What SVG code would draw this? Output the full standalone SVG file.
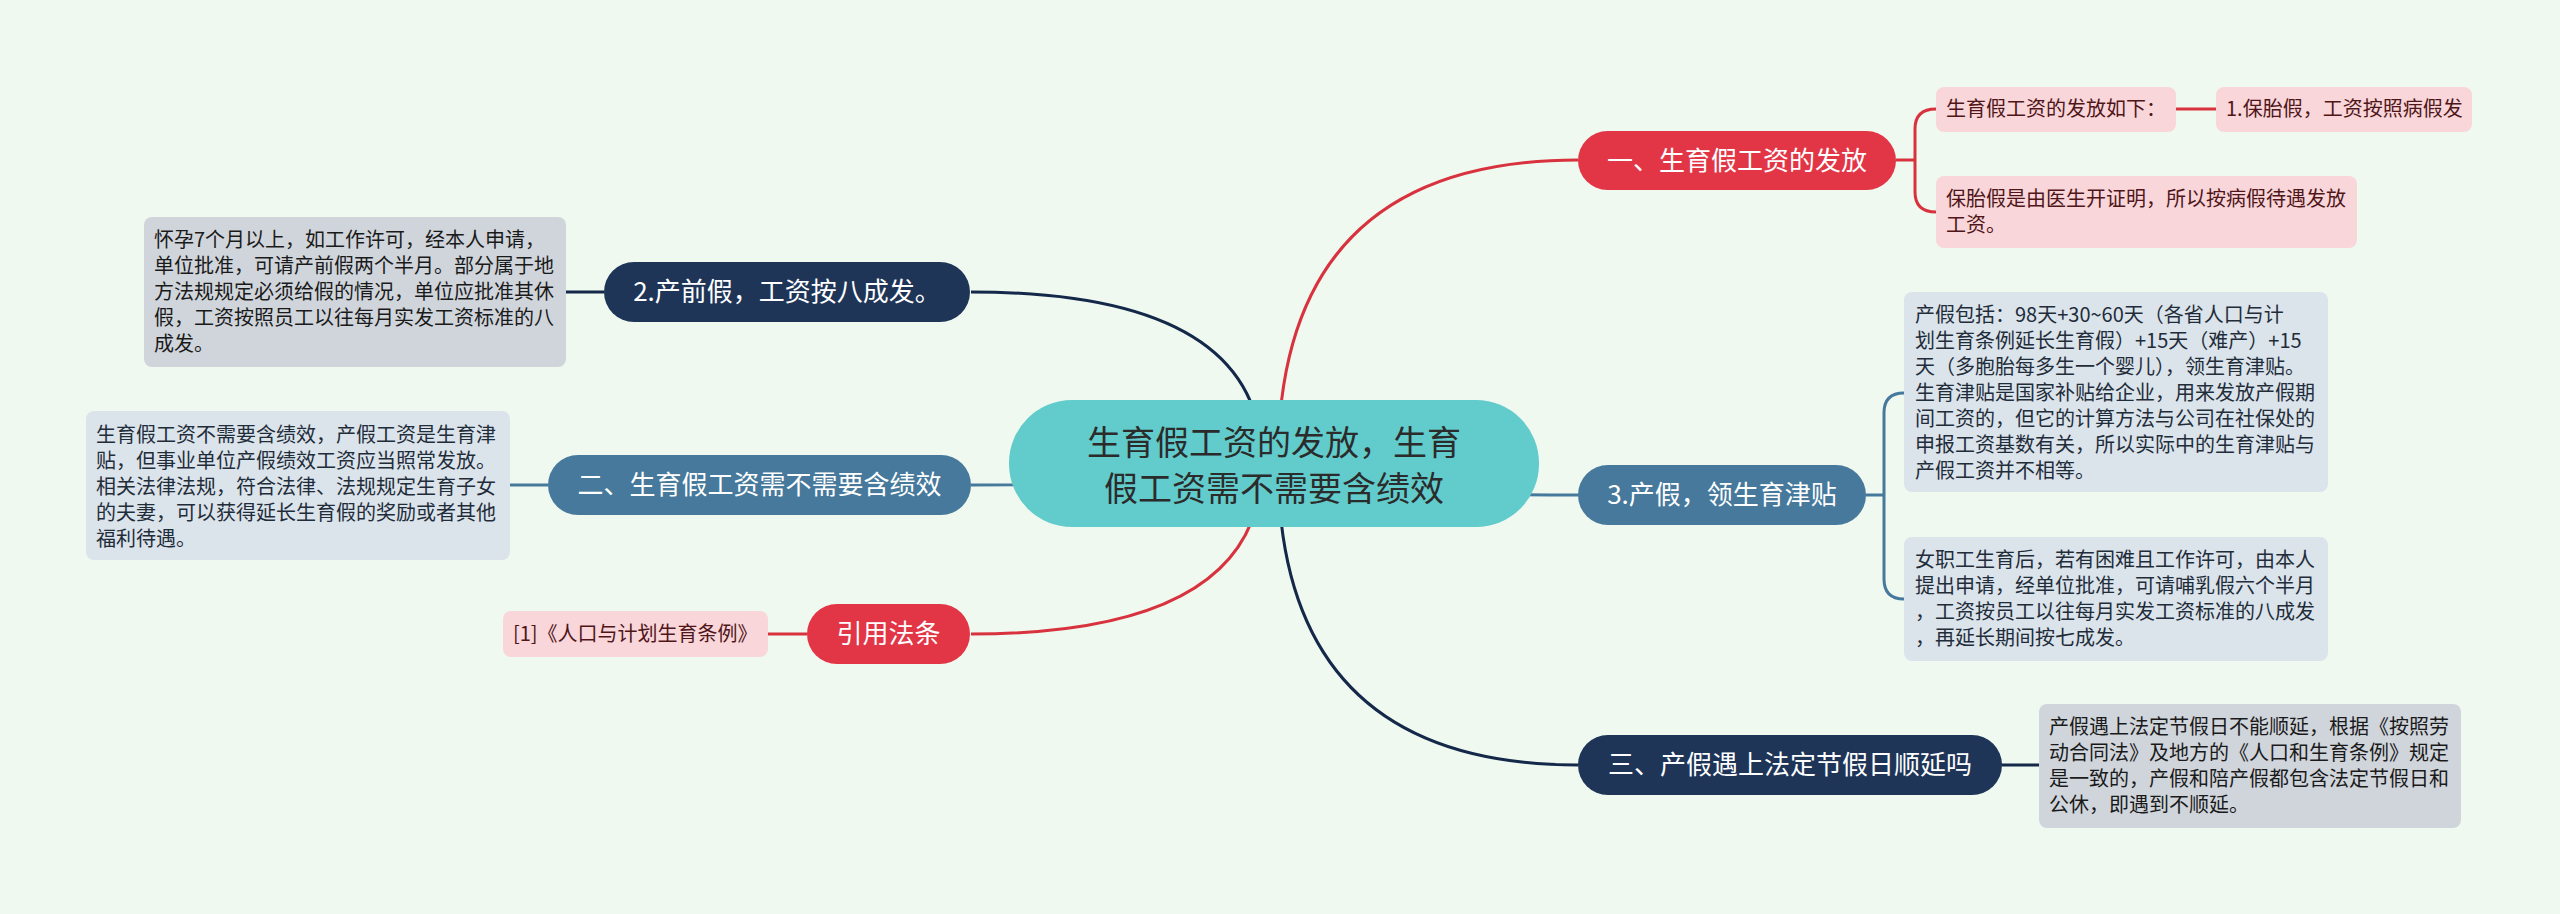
<svg xmlns="http://www.w3.org/2000/svg" width="2560" height="914" viewBox="0 0 2560 914">
<style>
text{font-family:"Noto Sans CJK SC","Noto Sans",sans-serif}
.tc{font-size:34px;fill:#2b2b2b;text-anchor:middle}
.tb{font-size:26px;fill:#ffffff;text-anchor:middle}
.tl{font-size:20px}
.pk{fill:#f9d6da}
.pkt{fill:#4f1518}
.bl{fill:#dbe3eb}
.blt{fill:#1f2d3a}
.gy{fill:#d0d5dc}
.gyt{fill:#1a1a1a}
.red{fill:#e23647}
.navy{fill:#1e3558}
.steel{fill:#46799c}
.c{fill:none;stroke-width:3}
.cr{stroke:#d8323f}
.cn{stroke:#14284a}
.cs{stroke:#46799c}
</style>
<rect width="2560" height="914" fill="#f0f9ef"/>
<g id="connectors">
<path class="c cr" d="M1278 463 Q1278 160 1578 160"/>
<path class="c cs" d="M1278 463 Q1278 495 1578 495"/>
<path class="c cn" d="M1278 463 Q1278 765 1578 765"/>
<path class="c cn" d="M1262 463 Q1262 292 971 292"/>
<path class="c cs" d="M1262 463 Q1262 485 971 485"/>
<path class="c cr" d="M1262 463 Q1262 634 971 634"/>
<path class="c cr" d="M1896 160 H1915"/>
<path class="c cr" d="M1915 160 V129 Q1915 109 1936 109"/>
<path class="c cr" d="M1915 160 V192 Q1915 212 1936 212"/>
<path class="c cr" d="M2176 109 H2216"/>
<path class="c cs" d="M1866 495 H1884"/>
<path class="c cs" d="M1884 495 V413 Q1884 393 1904 393"/>
<path class="c cs" d="M1884 495 V579 Q1884 599 1904 599"/>
<path class="c cn" d="M2002 765 H2039"/>
<path class="c cn" d="M604 292 H566"/>
<path class="c cs" d="M548 485 H510"/>
<path class="c cr" d="M807 634 H768"/>
</g>
<g id="center">
<rect x="1009" y="400" width="530" height="127" rx="63" fill="#62cbcc"/>
<text class="tc" x="1274" y="455">生育假工资的发放，生育</text>
<text class="tc" x="1274" y="501">假工资需不需要含绩效</text>
</g>
<g id="b1">
<rect class="red" x="1578" y="131" width="318" height="59" rx="29.5"/>
<text class="tb" x="1737" y="170">一、生育假工资的发放</text>
</g>
<g id="b1-l1">
<rect class="pk" x="1936" y="87" width="240" height="45" rx="8"/>
<text class="tl pkt" x="1946" y="116">生育假工资的发放如下：</text>
</g>
<g id="b1-l1-1">
<rect class="pk" x="2216" y="87" width="256" height="45" rx="8"/>
<text class="tl pkt" x="2226" y="116">1.保胎假，工资按照病假发</text>
</g>
<g id="b1-l2">
<rect class="pk" x="1936" y="176" width="421" height="72" rx="8"/>
<text class="tl pkt" x="1946" y="206">保胎假是由医生开证明，所以按病假待遇发放</text>
<text class="tl pkt" x="1946" y="232">工资。</text>
</g>
<g id="b2">
<rect class="steel" x="1578" y="465" width="288" height="60" rx="30"/>
<text class="tb" x="1722" y="504">3.产假，领生育津贴</text>
</g>
<g id="b2-l1">
<rect class="bl" x="1904" y="292" width="424" height="200" rx="8"/>
<text class="tl blt" x="1915" y="322">产假包括：98天+30~60天（各省人口与计</text>
<text class="tl blt" x="1915" y="348">划生育条例延长生育假）+15天（难产）+15</text>
<text class="tl blt" x="1915" y="374">天（多胞胎每多生一个婴儿），领生育津贴。</text>
<text class="tl blt" x="1915" y="400">生育津贴是国家补贴给企业，用来发放产假期</text>
<text class="tl blt" x="1915" y="426">间工资的，但它的计算方法与公司在社保处的</text>
<text class="tl blt" x="1915" y="452">申报工资基数有关，所以实际中的生育津贴与</text>
<text class="tl blt" x="1915" y="478">产假工资并不相等。</text>
</g>
<g id="b2-l2">
<rect class="bl" x="1904" y="537" width="424" height="124" rx="8"/>
<text class="tl blt" x="1915" y="567">女职工生育后，若有困难且工作许可，由本人</text>
<text class="tl blt" x="1915" y="593">提出申请，经单位批准，可请哺乳假六个半月</text>
<text class="tl blt" x="1915" y="619">，工资按员工以往每月实发工资标准的八成发</text>
<text class="tl blt" x="1915" y="645">，再延长期间按七成发。</text>
</g>
<g id="b3">
<rect class="navy" x="1578" y="735" width="424" height="60" rx="30"/>
<text class="tb" x="1790" y="774">三、产假遇上法定节假日顺延吗</text>
</g>
<g id="b3-l1">
<rect class="gy" x="2039" y="704" width="422" height="124" rx="8"/>
<text class="tl gyt" x="2049" y="734">产假遇上法定节假日不能顺延，根据《按照劳</text>
<text class="tl gyt" x="2049" y="760">动合同法》及地方的《人口和生育条例》规定</text>
<text class="tl gyt" x="2049" y="786">是一致的，产假和陪产假都包含法定节假日和</text>
<text class="tl gyt" x="2049" y="812">公休，即遇到不顺延。</text>
</g>
<g id="b4">
<rect class="navy" x="604" y="262" width="366" height="60" rx="30"/>
<text class="tb" x="787" y="301">2.产前假，工资按八成发。</text>
</g>
<g id="b4-l1">
<rect class="gy" x="144" y="217" width="422" height="150" rx="8"/>
<text class="tl gyt" x="154" y="247">怀孕7个月以上，如工作许可，经本人申请，</text>
<text class="tl gyt" x="154" y="273">单位批准，可请产前假两个半月。部分属于地</text>
<text class="tl gyt" x="154" y="299">方法规规定必须给假的情况，单位应批准其休</text>
<text class="tl gyt" x="154" y="325">假，工资按照员工以往每月实发工资标准的八</text>
<text class="tl gyt" x="154" y="351">成发。</text>
</g>
<g id="b5">
<rect class="steel" x="548" y="455" width="423" height="60" rx="30"/>
<text class="tb" x="759.5" y="494">二、生育假工资需不需要含绩效</text>
</g>
<g id="b5-l1">
<rect class="bl" x="86" y="411" width="424" height="149" rx="8"/>
<text class="tl blt" x="96" y="442">生育假工资不需要含绩效，产假工资是生育津</text>
<text class="tl blt" x="96" y="468">贴，但事业单位产假绩效工资应当照常发放。</text>
<text class="tl blt" x="96" y="494">相关法律法规，符合法律、法规规定生育子女</text>
<text class="tl blt" x="96" y="520">的夫妻，可以获得延长生育假的奖励或者其他</text>
<text class="tl blt" x="96" y="546">福利待遇。</text>
</g>
<g id="b6">
<rect class="red" x="807" y="604" width="163" height="60" rx="30"/>
<text class="tb" x="888.5" y="643">引用法条</text>
</g>
<g id="b6-l1">
<rect class="pk" x="503" y="611" width="265" height="46" rx="8"/>
<text class="tl pkt" x="513" y="641">[1]《人口与计划生育条例》</text>
</g>
</svg>
